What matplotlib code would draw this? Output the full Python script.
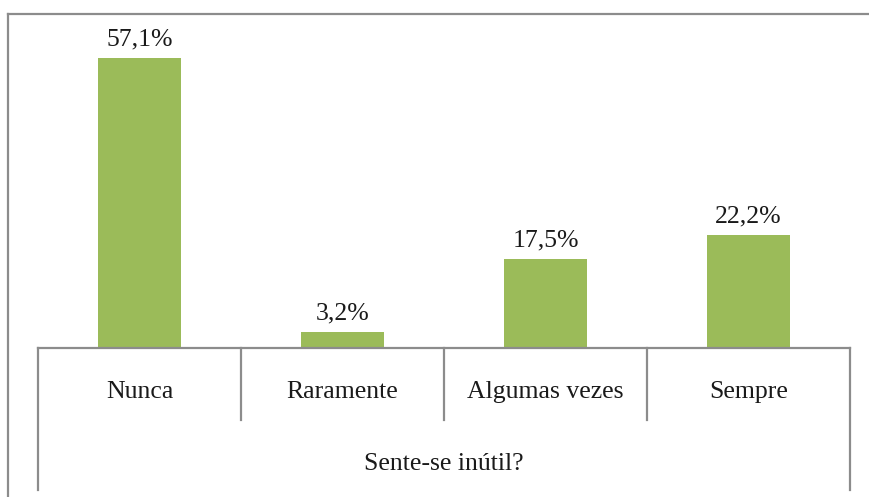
import matplotlib
matplotlib.use("Agg")
import matplotlib.pyplot as plt
from matplotlib.lines import Line2D

categories = ["Nunca", "Raramente", "Algumas vezes", "Sempre"]
values = [57.1, 3.2, 17.5, 22.2]
labels = ["57,1%", "3,2%", "17,5%", "22,2%"]
axis_title = "Sente-se inútil?"

W, H = 869, 497
fig = plt.figure(figsize=(W / 100, H / 100), dpi=100)
plt.rcParams['font.family'] = ['Liberation Serif', 'DejaVu Serif']

line_col = "#8c8c8c"
bar_col = "#9bbb59"
text_col = "#1a1a1a"

# axes in pixel coordinates
x0, x1 = 38, 850
ybase, ytop = 348, 30
ax = fig.add_axes([x0 / W, (H - ybase) / H, (x1 - x0) / W, (ybase - ytop) / H])
scale = (ybase - 58) / 57.1
ax.set_xlim(-0.5, len(categories) - 0.5)
ax.set_ylim(0, (ybase - ytop) / scale)
ax.bar(range(len(categories)), values, width=0.405, color=bar_col)
for i, (v, lab) in enumerate(zip(values, labels)):
    ax.annotate(lab, (i, v), xytext=(0, 5.5), textcoords="offset points",
                ha="center", va="bottom", fontsize=18.5, color=text_col)
for s in ax.spines.values():
    s.set_visible(False)
ax.set_xticks([])
ax.set_yticks([])
ax.patch.set_alpha(0)

def py(y):
    return (H - y) / H

def px(x):
    return x / W

lw = 1.6
# figure frame (top and left)
fig.add_artist(Line2D([px(8), px(869)], [py(14), py(14)], color=line_col, lw=lw))
fig.add_artist(Line2D([px(8), px(8)], [py(14), py(497)], color=line_col, lw=lw))
# baseline
fig.add_artist(Line2D([px(x0), px(x1)], [py(ybase), py(ybase)], color=line_col, lw=lw))
n = len(categories)
step = (x1 - x0) / n
for k in range(n + 1):
    xx = x0 + k * step
    yend = 490 if k in (0, n) else 420
    fig.add_artist(Line2D([px(xx), px(xx)], [py(ybase), py(yend)], color=line_col, lw=lw))
for k, c in enumerate(categories):
    fig.text(px(x0 + (k + 0.5) * step), py(392), c, ha="center", va="center",
             fontsize=18.5, color=text_col)
fig.text(px((x0 + x1) / 2), py(464), axis_title, ha="center", va="center",
         fontsize=18.5, color=text_col)

fig.savefig("out.png", dpi=100)
